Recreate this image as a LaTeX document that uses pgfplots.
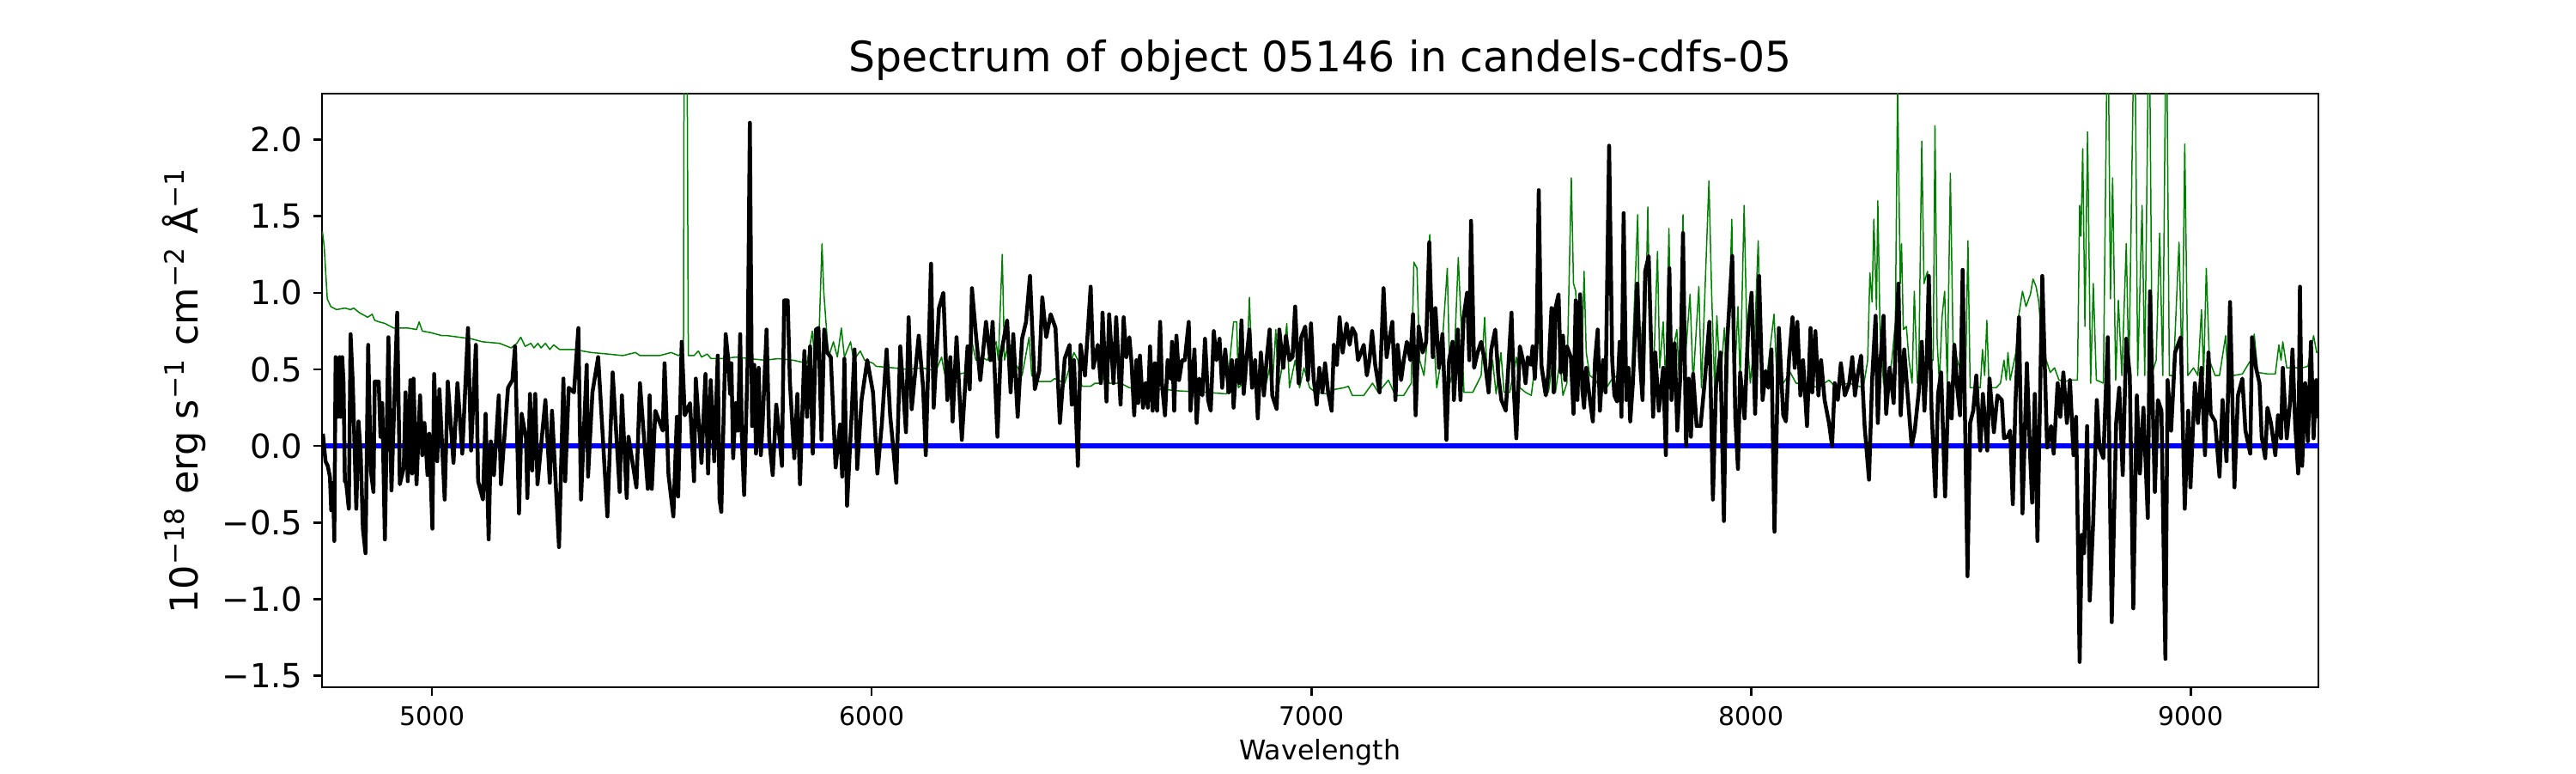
\documentclass[border=0pt]{standalone}
\usepackage{pgfplots}
\pgfplotsset{compat=1.18}
\usepackage{fontspec}
\setmainfont{DejaVu Sans}
\definecolor{mplgreen}{RGB}{0,128,0}
\begin{document}
\begin{tikzpicture}
\path[use as bounding box] (0,0) rectangle (300mm,90mm);
\begin{axis}[
  at={(37.5mm,10mm)}, anchor=south west,
  scale only axis, width=232.5mm, height=69.1mm,
  xmin=4750, xmax=9290, ymin=-1.575, ymax=2.30,
  axis line style={line width=0.7pt},
  tick align=outside, xtick pos=bottom, ytick pos=left,
  major tick length=1mm,
  every tick/.style={black, line width=0.7pt},
  xtick={5000,6000,7000,8000,9000}, xticklabels={5000,6000,7000,8000,9000},
  ytick={-1.5,-1,-0.5,0,0.5,1,1.5,2}, yticklabels={−1.5,−1.0,−0.5,0.0,0.5,1.0,1.5,2.0},
  xticklabel style={font=\fontsize{8.5}{10}\selectfont},
  yticklabel style={font=\fontsize{11}{13}\selectfont},
  every axis title shift=0pt,
  title={Spectrum of object 05146 in candels-cdfs-05},
  title style={font=\fontsize{13.9}{16}\selectfont, at={([yshift=2.5mm]axis description cs:0.5,1)}, anchor=base},
  xlabel={Wavelength},
  xlabel style={font=\fontsize{9}{11}\selectfont, at={([yshift=-7.6mm]axis description cs:0.5,0)}, anchor=center},
  ylabel={10\textsuperscript{−18} erg s\textsuperscript{−1} cm\textsuperscript{−2} Å\textsuperscript{−1}},
  ylabel style={font=\fontsize{12.7}{15}\selectfont, at={([xshift=-16.1mm]axis description cs:0,0.5)}, anchor=center},
]
\addplot[mplgreen, line width=0.15mm, line join=round] coordinates {
(4751,1.40)(4755,1.30)(4762,0.96)(4770,0.91)(4783,0.89)(4802,0.90)(4815,0.89)(4822,0.90)(4835,0.87)(4854,0.84)(4864,0.86)(4870,0.82)(4880,0.81)(4893,0.80)(4913,0.77)(4945,0.77)(4965,0.76)(4971,0.81)(4978,0.75)(4997,0.74)(5023,0.72)(5036,0.72)(5062,0.71)(5089,0.70)(5115,0.68)(5154,0.67)(5180,0.64)(5193,0.67)(5202,0.71)(5212,0.65)(5225,0.67)(5232,0.64)(5241,0.67)(5248,0.64)(5258,0.67)(5268,0.63)(5277,0.66)(5290,0.63)(5323,0.63)(5362,0.61)(5401,0.60)(5434,0.59)(5463,0.61)(5473,0.59)(5518,0.59)(5544,0.61)(5561,0.59)(5572,0.62)(5574,3.5)(5579,3.5)(5583,0.59)(5596,0.59)(5606,0.62)(5613,0.58)(5626,0.60)(5635,0.57)(5661,0.57)
(5691,0.58)(5723,0.57)(5756,0.56)(5788,0.57)(5821,0.56)(5853,0.54)(5865,0.75)(5870,0.58)(5879,0.61)(5887,1.32)(5891,1.01)(5896,0.81)(5902,0.58)(5913,0.68)(5922,0.58)(5931,0.77)(5938,0.58)(5952,0.68)(5959,0.56)(5974,0.62)(5984,0.56)(6003,0.54)(6010,0.52)(6049,0.51)(6081,0.50)(6114,0.51)(6146,0.49)(6159,0.58)(6166,0.47)(6198,0.47)(6218,0.48)(6228,0.68)(6237,0.56)(6250,0.58)(6263,0.56)(6283,0.68)(6288,0.56)(6297,1.25)(6302,0.56)(6312,0.68)(6322,0.56)(6342,0.46)(6358,0.71)(6364,0.46)(6381,0.42)(6407,0.42)(6416,0.44)(6439,0.41)(6460,0.61)(6469,0.56)(6478,0.39)(6498,0.39)(6508,0.41)(6524,0.41)(6530,0.56)(6540,0.41)(6556,0.41)
(6566,0.41)(6586,0.38)(6618,0.37)(6664,0.37)(6696,0.36)(6761,0.35)(6807,0.34)(6823,0.81)(6830,0.81)(6834,0.38)(6852,0.43)(6859,0.97)(6864,0.56)(6872,0.38)(6888,0.58)(6895,0.38)(6905,0.51)(6911,0.38)(6919,0.76)(6925,0.38)(6936,0.56)(6944,0.80)(6950,0.38)(6963,0.56)(6973,0.38)(6983,0.51)(6996,0.38)(7009,0.35)(7035,0.34)(7054,0.37)(7074,0.38)(7084,0.39)(7093,0.33)(7119,0.33)(7139,0.41)(7152,0.35)(7175,0.43)(7191,0.33)(7210,0.33)(7227,0.41)(7233,1.20)(7240,1.16)(7246,0.56)(7256,0.46)(7263,0.68)(7269,1.38)(7276,0.81)(7285,0.38)(7295,0.56)(7309,1.16)(7315,0.41)(7324,0.51)(7334,1.23)(7341,0.76)(7347,0.35)(7367,0.35)(7386,0.46)(7394,0.84)(7401,0.34)(7412,0.56)(7420,0.34)(7431,0.61)(7438,0.35)(7451,0.35)(7466,0.58)
(7474,0.38)(7487,0.35)(7500,0.33)(7510,0.56)(7516,0.86)(7521,0.51)(7529,0.35)(7539,0.35)(7549,0.56)(7555,0.35)(7565,0.56)(7572,0.33)(7581,0.41)(7591,1.75)(7596,1.06)(7601,1.01)(7607,0.56)(7614,0.41)(7620,1.14)(7625,0.61)(7633,0.46)(7647,0.43)(7659,0.35)(7669,0.37)(7682,0.43)(7695,0.46)(7708,0.56)(7728,0.43)(7742,1.51)(7747,0.56)(7753,0.81)(7757,0.41)(7765,1.56)(7770,0.68)(7777,0.38)(7787,1.27)(7792,0.51)(7800,0.81)(7806,0.38)(7813,1.42)(7818,0.56)(7831,0.76)(7837,0.38)(7845,1.51)(7850,0.56)(7861,0.99)(7868,0.41)(7881,1.04)(7887,0.38)(7904,1.73)(7910,1.01)(7917,0.38)(7922,0.85)(7930,0.41)(7939,0.77)(7946,0.41)(7956,1.48)(7962,0.41)(7970,0.91)(7975,0.41)(7984,1.57)(7990,0.76)(7998,0.41)(8008,0.71)(8016,1.34)(8022,0.56)(8034,0.41)(8044,0.66)(8052,0.86)(8059,0.41)(8073,0.41)(8089,0.48)(8102,0.41)(8125,0.41)(8151,0.38)(8177,0.43)(8190,0.39)(8223,0.41)(8255,0.38)(8265,0.56)(8270,1.13)(8275,0.94)(8279,1.48)(8285,0.89)(8288,1.60)(8293,0.76)(8301,0.41)(8311,0.41)(8320,0.56)(8328,0.81)(8333,2.35)(8339,1.06)(8342,1.32)(8346,0.76)(8353,0.78)(8359,0.56)(8366,0.41)(8371,1.01)(8378,0.41)
(8381,0.46)(8388,1.99)(8393,1.06)(8401,1.14)(8407,0.56)(8414,0.56)(8418,2.09)(8423,0.68)(8428,0.41)(8434,0.84)(8440,1.01)(8446,0.41)(8453,1.78)(8459,0.68)(8469,0.56)(8479,0.46)(8488,0.51)(8493,1.34)(8498,0.38)(8511,0.38)(8521,0.38)(8526,0.63)(8531,0.46)(8536,0.82)(8541,0.38)(8557,0.38)(8567,0.41)(8575,0.56)(8580,0.43)(8584,0.61)(8589,0.43)(8602,0.61)(8609,0.86)(8617,1.01)(8625,0.91)(8635,0.99)(8641,1.09)(8648,1.04)(8654,0.94)(8661,0.68)(8671,0.56)(8680,0.48)(8690,0.51)(8700,0.43)(8713,0.42)(8726,0.43)(8742,0.43)(8747,1.57)(8750,1.37)(8754,1.94)(8759,0.78)(8765,2.05)(8772,0.41)(8778,1.06)(8785,0.43)(8801,0.41)(8811,3.0)(8817,0.96)(8822,1.75)(8829,0.43)(8835,0.95)(8843,0.46)(8853,1.32)(8859,0.46)(8872,3.0)(8879,0.46)(8889,1.57)(8895,0.46)(8905,3.0)(8912,0.48)(8921,0.56)(8929,1.39)(8936,0.46)(8944,3.0)(8951,0.46)(8960,0.46)(8973,1.33)(8980,0.46)(8986,1.97)(8993,0.46)(9006,0.51)(9016,0.46)(9024,0.89)(9029,0.46)(9035,1.16)(9042,0.56)(9055,0.46)(9065,0.46)(9079,0.72)(9084,0.46)(9097,0.46)(9117,0.47)(9136,0.56)(9144,0.73)(9152,0.48)(9175,0.47)(9192,0.47)(9200,0.66)(9205,0.56)(9209,0.68)(9218,0.51)(9228,0.51)(9240,0.51)(9253,0.51)(9266,0.52)(9279,0.72)(9286,0.61)(9290,0.62)
};
\addplot[blue, line width=0.6mm] coordinates {(4750,0)(9290,0)};
\addplot[black, line width=0.45mm, line join=round] coordinates {
(4752,0.08)(4758,-0.10)(4763,-0.13)(4768,-0.20)(4771,-0.42)(4775,-0.24)(4778,-0.62)(4781,0.58)(4786,0.19)(4790,0.58)(4792,0.19)(4796,0.58)(4799,0.41)(4802,-0.23)(4805,-0.24)(4811,-0.41)(4815,0.73)(4820,0.41)(4828,-0.41)(4833,0.16)(4838,-0.05)(4843,-0.54)(4849,-0.70)(4855,0.66)(4861,-0.16)(4867,-0.30)(4870,0.42)(4879,0.42)(4883,0.06)(4887,0.28)(4893,-0.61)(4901,0.71)(4908,-0.29)(4921,0.87)(4927,-0.25)(4936,-0.14)(4940,0.35)(4945,-0.23)(4951,0.43)(4955,-0.18)(4958,0.44)(4965,-0.25)(4973,0.33)(4978,-0.06)(4983,0.15)(4990,-0.19)(4994,0.08)(5001,-0.54)(5005,0.47)(5012,-0.10)(5017,0.37)(5029,-0.35)(5036,0.42)(5049,-0.11)(5058,0.41)(5069,-0.05)(5082,0.77)(5089,-0.03)(5100,0.66)(5105,-0.23)(5116,-0.35)(5122,0.21)(5129,-0.61)(5134,0.03)(5141,-0.19)(5152,0.33)(5157,-0.25)(5173,0.38)(5183,0.43)(5189,0.65)(5198,-0.44)(5204,0.21)(5214,0.05)(5217,-0.34)(5223,0.34)(5228,-0.16)(5235,0.34)(5240,-0.25)(5258,0.30)(5268,-0.24)(5273,0.23)(5289,-0.66)(5299,0.44)(5303,-0.23)(5311,0.38)(5323,0.35)(5333,0.77)(5339,-0.35)(5352,0.53)(5355,-0.20)(5365,0.35)(5378,0.58)(5399,-0.46)(5411,0.48)(5427,-0.30)(5432,0.33)(5443,-0.34)(5447,0.06)(5465,-0.27)(5473,0.41)(5491,-0.28)(5495,0.33)(5500,-0.28)(5508,0.23)(5525,0.10)(5529,0.54)(5538,-0.19)(5549,-0.46)(5557,0.19)(5560,-0.33)(5568,0.68)(5575,0.20)(5587,0.28)(5596,-0.23)(5600,0.44)(5613,-0.11)(5622,0.47)(5628,-0.18)(5634,0.43)(5642,-0.10)(5650,0.59)(5654,-0.35)
(5658,-0.43)(5668,0.73)(5674,0.56)(5678,0.34)(5681,0.54)(5685,-0.08)(5691,0.28)(5696,0.10)(5701,0.73)(5705,0.03)(5710,-0.32)(5718,0.56)(5723,2.11)(5728,0.13)(5733,0.53)(5737,-0.05)(5743,0.51)(5748,-0.06)(5752,0.15)(5761,0.76)(5767,0.04)(5775,-0.19)(5783,0.27)(5788,0.13)(5796,-0.13)(5801,0.95)(5809,0.95)(5814,0.42)(5824,-0.08)(5831,0.34)(5837,-0.25)(5847,0.62)(5853,0.19)(5860,0.65)(5866,-0.05)(5873,0.76)(5879,0.77)(5886,0.04)(5892,0.76)(5899,0.61)(5907,0.58)(5918,-0.14)(5928,0.14)(5933,-0.20)(5938,0.57)(5944,-0.39)(5954,0.18)(5961,0.63)(5967,-0.15)(5977,0.30)(5990,0.56)(6003,0.35)(6013,-0.18)(6023,0.14)(6034,0.63)(6042,0.20)(6049,-0.01)(6056,-0.24)(6065,0.65)(6078,0.09)(6084,0.84)(6091,0.24)(6107,0.72)(6117,0.38)(6123,-0.06)(6135,1.19)(6141,0.25)(6153,0.90)(6163,1.00)(6172,0.30)(6179,0.58)(6184,0.16)(6193,0.71)(6205,0.04)(6218,0.65)(6223,0.37)(6228,1.03)(6237,0.73)(6247,0.43)(6260,0.81)(6270,0.56)(6275,0.81)(6286,0.06)(6293,0.58)(6308,0.82)(6316,0.35)(6322,0.73)(6332,0.19)(6342,0.70)(6351,0.81)(6360,1.11)(6371,0.37)(6381,0.49)(6388,0.97)(6397,0.71)(6407,0.86)(6418,0.77)(6428,0.15)(6439,0.57)(6450,0.66)(6455,0.27)(6460,0.56)(6469,-0.13)(6475,0.66)(6485,0.46)(6498,1.04)(6504,0.51)(6514,0.66)(6521,0.41)(6525,0.87)(6534,0.29)(6540,0.86)(6550,0.41)(6556,0.84)
(6566,0.27)(6573,0.84)(6579,0.58)(6586,0.71)(6591,0.54)(6597,0.20)(6602,0.56)(6606,0.28)(6610,0.59)(6617,0.25)(6623,0.41)(6628,0.25)(6633,0.65)(6639,0.23)(6644,0.54)(6649,0.23)(6656,0.81)(6660,0.41)(6667,0.20)(6673,0.56)(6680,0.44)(6683,0.68)(6688,0.23)(6693,0.72)(6699,0.43)(6706,0.56)(6712,0.56)(6721,0.81)(6725,0.23)(6734,0.63)(6739,0.15)(6745,0.44)(6752,0.33)(6758,0.70)(6765,0.30)(6771,0.23)(6778,0.75)(6784,0.56)(6791,0.70)(6797,0.38)(6804,0.63)(6812,0.35)(6819,0.56)(6823,0.25)(6830,0.56)(6836,0.41)(6841,0.82)(6846,0.34)(6852,0.56)(6859,0.76)(6865,0.38)(6872,0.56)(6878,0.18)(6885,0.61)(6892,0.33)(6898,0.56)(6905,0.76)(6911,0.33)(6921,0.24)(6927,0.76)(6936,0.51)(6942,0.72)(6950,0.56)(6957,0.58)(6963,0.91)(6971,0.41)(6977,0.71)(6986,0.78)(6992,0.43)(6999,0.80)(7005,0.44)(7012,0.27)(7018,0.51)(7025,0.35)(7031,0.54)(7038,0.35)(7046,0.23)(7051,0.66)(7058,0.53)(7064,0.84)(7071,0.61)(7080,0.80)(7087,0.66)(7093,0.77)(7100,0.73)(7106,0.56)(7113,0.61)(7119,0.66)(7126,0.46)(7132,0.56)(7138,0.75)(7145,0.53)(7155,0.35)(7164,1.03)(7171,0.58)(7178,0.71)(7184,0.81)(7191,0.30)(7196,0.66)(7204,0.43)(7210,0.56)(7217,0.68)(7225,0.56)(7231,0.86)(7237,0.20)(7244,0.78)(7253,0.61)(7261,0.68)(7268,1.33)(7276,0.58)(7282,0.90)(7290,0.51)(7298,0.73)(7307,0.04)(7313,0.56)(7321,0.68)(7324,0.30)(7333,0.76)(7339,0.30)(7346,0.84)(7354,1.00)(7359,0.56)(7363,1.47)(7370,0.51)(7378,0.61)(7386,0.68)(7394,0.56)(7403,0.35)(7409,0.63)(7418,0.76)(7425,0.46)(7432,0.30)(7442,0.23)(7455,0.87)(7460,0.38)(7466,0.05)
(7474,0.65)(7481,0.56)(7487,0.41)(7492,0.58)(7499,0.53)(7503,0.65)(7508,0.44)(7512,0.66)(7517,1.67)(7523,0.53)(7533,0.33)(7539,0.48)(7546,0.90)(7551,0.35)(7555,0.90)(7562,0.99)(7567,0.48)(7572,0.72)(7577,0.43)(7581,0.65)(7590,0.58)(7596,0.21)(7601,0.95)(7605,0.30)(7611,0.99)(7616,0.37)(7620,0.25)(7625,0.51)(7632,0.33)(7640,0.16)(7645,0.56)(7651,0.76)(7656,0.23)(7663,0.56)(7669,0.35)(7677,1.96)(7684,0.56)(7689,0.33)(7695,0.29)(7701,0.68)(7705,0.19)(7710,1.52)(7716,0.30)(7721,0.51)(7725,0.16)(7731,0.41)(7741,1.06)(7747,0.56)(7753,0.30)(7759,1.14)(7767,1.24)(7777,0.19)(7782,0.61)(7790,0.23)(7800,0.51)(7806,-0.06)(7814,1.16)(7819,0.30)(7826,0.67)(7832,0.10)(7839,0.46)(7845,1.39)(7852,0.00)(7858,0.44)(7863,0.06)(7868,0.47)(7876,0.13)(7885,0.13)(7894,0.41)(7905,0.81)(7913,-0.35)(7920,0.38)(7930,0.61)(7938,-0.49)(7944,0.61)(7957,1.24)(7964,0.18)(7970,-0.15)(7975,0.48)(7985,0.18)(7993,0.76)(8001,1.00)(8009,0.21)(8018,1.11)(8026,0.30)(8033,0.49)(8039,0.38)(8046,0.63)(8053,-0.56)(8063,0.77)(8073,0.20)(8079,0.16)(8086,0.56)(8094,0.84)(8099,0.51)(8105,0.81)(8112,0.33)(8118,0.56)(8127,0.13)(8135,0.77)(8139,0.35)(8146,0.75)(8153,0.33)(8159,0.56)(8167,0.30)(8177,0.15)(8184,0.00)(8190,0.41)(8197,0.30)(8204,0.54)(8213,0.33)(8223,0.41)(8230,0.58)(8236,0.33)(8242,0.46)(8250,0.59)(8258,0.13)(8268,-0.22)(8275,0.43)(8283,0.85)(8288,0.15)(8293,0.51)(8301,0.85)(8307,0.21)(8315,0.51)(8324,0.28)(8328,0.61)(8335,1.06)(8340,0.20)(8348,0.63)(8356,0.33)(8365,0.00)(8372,0.10)
(8381,0.35)(8388,0.68)(8394,0.23)(8399,0.53)(8404,1.11)(8410,0.25)(8419,-0.33)(8425,0.34)(8432,0.48)(8441,-0.33)(8449,0.41)(8456,0.18)(8462,0.66)(8469,0.37)(8475,0.20)(8481,1.15)(8492,-0.85)(8498,0.15)(8505,0.23)(8512,0.46)(8521,-0.03)(8527,0.34)(8537,-0.03)(8542,0.44)(8552,0.09)(8560,0.33)(8570,0.30)(8575,0.05)(8583,0.06)(8589,0.10)(8595,-0.38)(8601,0.28)(8609,0.84)(8617,-0.44)(8627,0.54)(8634,-0.03)(8639,-0.37)(8645,0.34)(8651,-0.62)(8662,1.11)(8673,-0.01)(8682,0.13)(8688,-0.05)(8697,0.41)(8703,0.19)(8710,0.48)(8718,0.15)(8725,0.43)(8733,-0.06)(8739,0.19)(8747,-1.41)(8752,-0.58)(8757,-0.70)(8764,0.13)(8770,-1.01)(8778,-0.48)(8786,0.30)(8792,-0.01)(8801,-0.08)(8811,0.71)(8820,-1.15)(8830,0.15)(8837,0.38)(8845,-0.19)(8853,0.70)(8861,0.46)(8869,-1.06)(8877,0.33)(8884,-0.18)(8892,0.25)(8902,-0.47)(8907,1.01)(8918,-0.30)(8925,0.30)(8933,0.23)(8942,-1.39)(8947,0.43)(8955,0.10)(8964,0.61)(8977,0.71)(8986,-0.41)(8994,0.23)(8999,-0.27)(9009,0.41)(9016,0.15)(9024,0.51)(9032,-0.06)(9040,0.61)(9045,0.21)(9055,0.16)(9065,-0.20)(9072,0.30)(9081,-0.10)(9089,0.94)(9099,-0.27)(9107,0.33)(9117,0.44)(9124,0.10)(9135,-0.05)(9139,0.71)(9148,0.51)(9156,0.41)(9161,0.06)(9169,-0.08)(9174,0.25)(9182,0.15)(9192,-0.06)(9198,0.20)(9205,0.05)(9209,0.51)(9218,0.05)(9226,0.30)(9231,0.63)(9237,0.15)(9244,-0.18)(9248,1.04)(9253,-0.13)(9260,0.41)(9266,0.03)(9273,0.68)(9279,0.05)(9285,0.43)(9289,0.18)
};
\end{axis}
\end{tikzpicture}
\end{document}
